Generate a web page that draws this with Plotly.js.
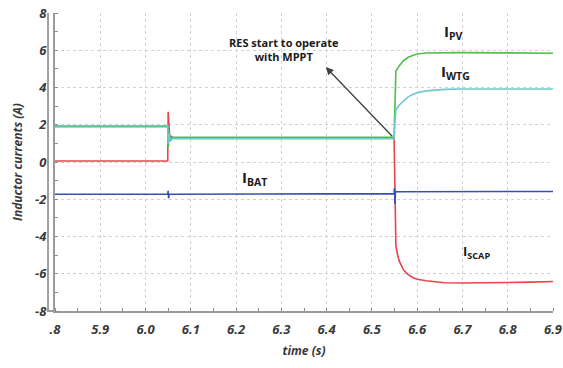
<!DOCTYPE html>
<html>
<head>
<meta charset="utf-8">
<script src="https://cdn.plot.ly/plotly-3.0.1.min.js"></script>
<style>html,body{margin:0;padding:0;background:#fff;}#chart{width:563px;height:368px;}</style>
</head>
<body>
<div id="chart"></div>
<script>
// ---- data ----
const tScap = [5.8, 5.9, 6.0, 6.049, 6.050, 6.052, 6.054, 6.057, 6.06, 6.2, 6.35, 6.5, 6.549, 6.551, 6.553, 6.556, 6.56, 6.57, 6.58, 6.59, 6.60, 6.62, 6.64, 6.66, 6.70, 6.75, 6.80, 6.85, 6.9];
const iScap = [0.05, 0.05, 0.02, 0.05, 2.7, 1.7, 1.1, 1.4, 1.3, 1.3, 1.28, 1.3, 1.3, -1.5, -4.5, -4.9, -5.3, -5.8, -6.05, -6.2, -6.3, -6.38, -6.45, -6.48, -6.5, -6.5, -6.47, -6.45, -6.42];

const tWtg = [5.8, 5.9, 6.0, 6.049, 6.050, 6.052, 6.055, 6.06, 6.2, 6.35, 6.5, 6.549, 6.551, 6.553, 6.56, 6.57, 6.58, 6.59, 6.60, 6.62, 6.64, 6.66, 6.70, 6.80, 6.9];
const iWtg = [1.95, 1.95, 1.95, 1.95, 1.0, 1.5, 1.15, 1.25, 1.25, 1.25, 1.25, 1.25, 2.2, 2.8, 3.05, 3.3, 3.5, 3.62, 3.72, 3.82, 3.87, 3.9, 3.92, 3.92, 3.92];

const tPv = [5.8, 5.9, 6.0, 6.049, 6.050, 6.052, 6.055, 6.06, 6.2, 6.35, 6.5, 6.549, 6.551, 6.553, 6.556, 6.56, 6.57, 6.58, 6.59, 6.60, 6.62, 6.65, 6.70, 6.80, 6.9];
const iPv = [1.9, 1.9, 1.9, 1.9, 0.8, 1.6, 1.2, 1.32, 1.32, 1.3, 1.32, 1.32, 3.6, 4.9, 5.0, 5.15, 5.45, 5.62, 5.72, 5.8, 5.85, 5.87, 5.87, 5.86, 5.84];

const tBat = [5.8, 5.9, 6.0, 6.049, 6.050, 6.051, 6.052, 6.06, 6.2, 6.35, 6.5, 6.549, 6.550, 6.551, 6.552, 6.56, 6.7, 6.8, 6.9];
const iBat = [-1.73, -1.75, -1.73, -1.73, -1.55, -1.95, -1.72, -1.73, -1.72, -1.7, -1.7, -1.7, -1.4, -2.25, -1.6, -1.6, -1.6, -1.6, -1.58];

const xTickVals = [5.8, 5.9, 6.0, 6.1, 6.2, 6.3, 6.4, 6.5, 6.6, 6.7, 6.8, 6.9];
const xTickText = [".8", "5.9", "6.0", "6.1", "6.2", "6.3", "6.4", "6.5", "6.6", "6.7", "6.8", "6.9"];
const yTickVals = [-8, -6, -4, -2, 0, 2, 4, 6, 8];
const yTickText = ["-8", "-6", "-4", "-2", "0", "2", "4", "6", "8"];

// ---- chart ----
const tickFont = {family: "Open Sans", size: 13, color: "#3a3a3a", weight: 700, style: "italic"};
const lw = 1.6;
const traces = [
  {x: tScap, y: iScap, mode: "lines", line: {color: "#e8454c", width: lw}, name: "I_SCAP"},
  {x: tPv, y: iPv, mode: "lines", line: {color: "#4fbf4a", width: lw}, name: "I_PV"},
  {x: tWtg, y: iWtg, mode: "lines", line: {color: "#6cc9cf", width: lw}, name: "I_WTG"},
  {x: tBat, y: iBat, mode: "lines", line: {color: "#3c4fae", width: lw}, name: "I_BAT"}
];

const labFont = {family: "Open Sans", size: 15, color: "#1a1a1a", weight: 700};
const layout = {
  width: 563, height: 368,
  margin: {l: 55, r: 10, t: 13, b: 57},
  paper_bgcolor: "#fff", plot_bgcolor: "#fff",
  showlegend: false,
  xaxis: {
    range: [5.8, 6.9], tickvals: xTickVals, ticktext: xTickText,
    showgrid: true, gridcolor: "#d2d2d2", griddash: "dot", gridwidth: 1,
    zeroline: false, showline: true, linecolor: "#9a9a9a", linewidth: 2,
    ticks: "", tickfont: tickFont, ticklabelstandoff: 5,
    minor: {dtick: 0.05, ticks: "inside", ticklen: 3, tickcolor: "#8a8a8a", showgrid: false},
    title: {text: "time (s)", font: {family: "Open Sans", size: 12, color: "#3a3a3a", weight: 700, style: "italic"}, standoff: 10}
  },
  yaxis: {
    range: [-8, 8], tickvals: yTickVals, ticktext: yTickText,
    showgrid: true, gridcolor: "#d2d2d2", griddash: "dot", gridwidth: 1,
    zeroline: false, showline: true, linecolor: "#9a9a9a", linewidth: 2,
    ticks: "", tickfont: tickFont, ticklabelstandoff: 4,
    minor: {dtick: 1, ticks: "inside", ticklen: 3, tickcolor: "#8a8a8a", showgrid: false},
    title: {text: "Inductor currents (A)", font: {family: "Open Sans", size: 12, color: "#3a3a3a", weight: 700, style: "italic"}, standoff: 10}
  },
  shapes: [
    {type: "line", xref: "paper", yref: "paper", x0: -0.014, x1: -0.014, y0: 0, y1: 1, line: {color: "#a0a0a0", width: 2}},
    {type: "line", xref: "paper", yref: "paper", x0: -0.016, x1: 0, y0: 0, y1: 0, line: {color: "#9a9a9a", width: 2}}
  ],
  annotations: [
    {x: 6.398, y: 5.1, ax: 6.548, ay: 1.3, xref: "x", yref: "y", axref: "x", ayref: "y",
     text: "", showarrow: true, arrowhead: 2, arrowsize: 1.2, arrowwidth: 1.3, arrowcolor: "#404040"},
    {x: 6.305, y: 6.05, xref: "x", yref: "y", showarrow: false,
     text: "RES start to operate<br>with MPPT", align: "center",
     font: {family: "Open Sans", size: 11, color: "#1a1a1a", weight: 700}},
    {x: 6.68, y: 7.0, xref: "x", yref: "y", showarrow: false, text: "I<sub>PV</sub>", font: labFont},
    {x: 6.685, y: 4.85, xref: "x", yref: "y", showarrow: false, text: "I<sub>WTG</sub>", font: labFont},
    {x: 6.24, y: -0.85, xref: "x", yref: "y", showarrow: false, text: "I<sub>BAT</sub>", font: labFont},
    {x: 6.73, y: -4.85, xref: "x", yref: "y", showarrow: false, text: "I<sub>SCAP</sub>", font: {family: "Open Sans", size: 13, color: "#1a1a1a", weight: 700}}
  ]
};

Plotly.newPlot("chart", traces, layout, {staticPlot: true, displayModeBar: false});
</script>
</body>
</html>
